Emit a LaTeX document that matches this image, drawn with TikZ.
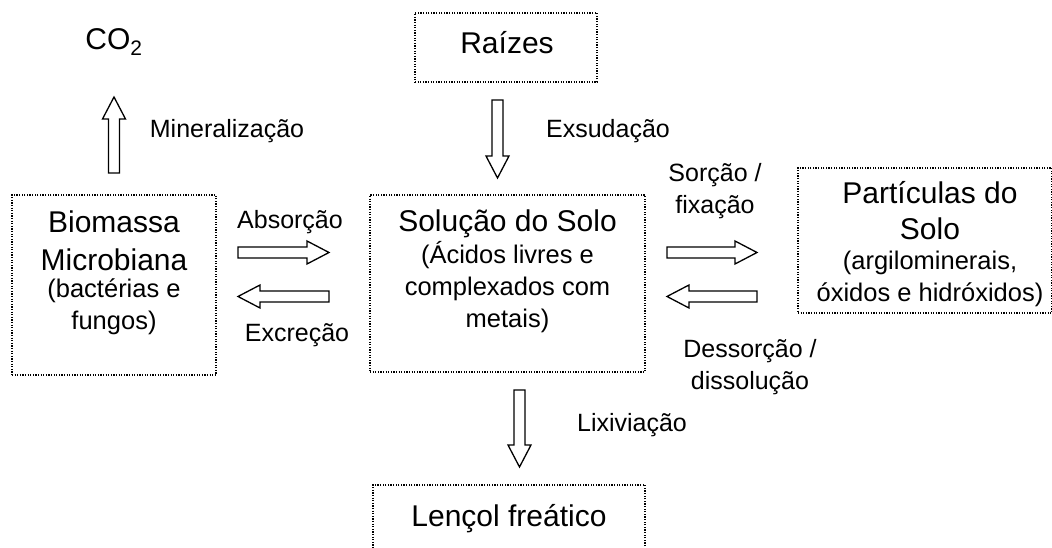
\documentclass[tikz,border=0pt]{standalone}
\usepackage{fontspec}
\setmainfont{Liberation Sans}

\newcommand{\titlefont}{\fontsize{30}{32}\selectfont}
\newcommand{\subfont}{\fontsize{25.5}{32}\selectfont}
\newcommand{\labelfont}{\fontsize{25}{32}\selectfont}

\tikzset{
  pics/blockarrow/.style={code={
    \draw[arrowline] (0,-5.5) -- (#1-22,-5.5) -- (#1-22,-11.5) -- (#1,0)
      -- (#1-22,11.5) -- (#1-22,5.5) -- (0,5.5) -- cycle;
  }}
}

\begin{document}
\begin{tikzpicture}[x=1pt,y=1pt,
  box/.style={draw=black,line width=1.2pt,dash pattern=on 1.2pt off 1.4pt,inner sep=0pt},
  arrowline/.style={draw=black,fill=white,line width=1.3pt,line join=miter},
  boxtext/.style={align=center,inner sep=0pt,font=\titlefont},
  lbl/.style={align=center,inner sep=0pt,font=\labelfont}]
\useasboundingbox (0,0) rectangle (1052,548);
% Drawing boxes
\node[box,minimum width=182,minimum height=69] (raizes) at (506,500.5) {};
\node[box,minimum width=204,minimum height=180] (biomassa) at (114,263) {};
\node[box,minimum width=275,minimum height=177] (solucao) at (507.5,264.5) {};
\node[box,minimum width=254,minimum height=145] (particulas) at (925,307.5) {};
\node[box,minimum width=272,minimum height=70] (lencol) at (509,28) {};
% Done with boxes; drawing box texts
\node[boxtext] (co2) at (114,506) {CO\textsubscript{2}};
\node[boxtext] (raizes text) at (507,505) {Raízes};
\node[boxtext] (biomassa text) at (114,275) {Biomassa\\[6pt]Microbiana\\[-5pt]\subfont (bactérias e\\\subfont fungos)};
\node[boxtext] (solucao text) at (507.5,276.5) {Solução do Solo\\\subfont (Ácidos livres e\\\subfont complexados com\\\subfont metais)};
\node[boxtext] (particulas text) at (930,304) {Partículas do\\[4pt]Solo\\[-2pt]\subfont (argilominerais,\\\subfont óxidos e hidróxidos)};
\node[boxtext] (lencol text) at (509,29) {Lençol freático};
% Drawing block arrows
\pic[rotate=90] (mineral arrow) at (114,375) {blockarrow=76};
\pic[rotate=-90] (exsudacao arrow) at (497.5,448) {blockarrow=78};
\pic (absorcao arrow) at (238,295.5) {blockarrow=91};
\pic[rotate=180] (excrecao arrow) at (329,251.5) {blockarrow=91};
\pic (sorcao arrow) at (667,295.5) {blockarrow=90};
\pic[rotate=180] (dessorcao arrow) at (757,251.5) {blockarrow=90};
\pic[rotate=-90] (lixiviacao arrow) at (519.5,158) {blockarrow=77};
% Done with arrows; drawing process labels
\node[lbl] (mineralizacao) at (227,417) {Mineralização};
\node[lbl] (exsudacao) at (608,417) {Exsudação};
\node[lbl] (absorcao) at (290,326) {Absorção};
\node[lbl] (excrecao) at (297,213) {Excreção};
\node[lbl] (sorcao) at (715,357) {Sorção /\\fixação};
\node[lbl] (dessorcao) at (750,180.5) {Dessorção /\\dissolução};
\node[lbl] (lixiviacao) at (632,123) {Lixiviação};
\end{tikzpicture}
\end{document}
